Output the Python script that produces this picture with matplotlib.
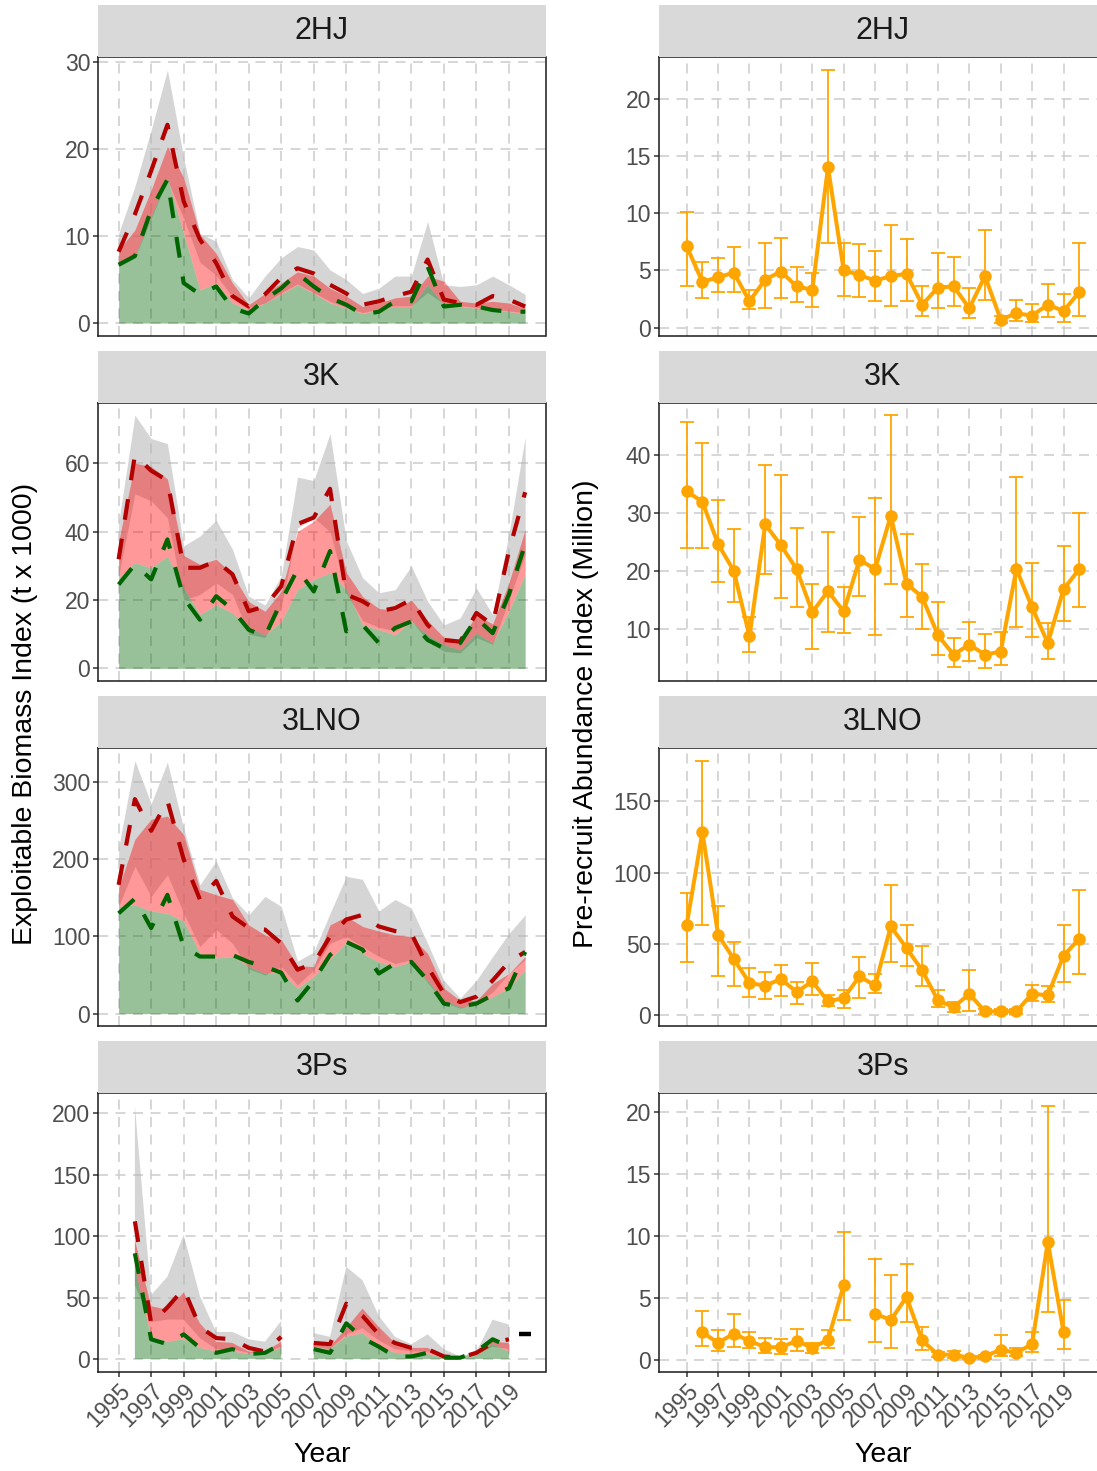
import numpy as np
import matplotlib
matplotlib.use('Agg')
import matplotlib.pyplot as plt

plt.rcParams['font.family'] = ['Liberation Sans', 'DejaVu Sans']

W, H = 1097, 1471
nan = np.nan
years = np.arange(1995, 2021)
regions = ['2HJ', '3K', '3LNO', '3Ps']
xticks = list(range(1995, 2020, 2))

# exploitable biomass (t x 1000): grey band, red band, green area, two dashed lines
hj_grey_hi = [10.3, 15.7, 22.2, 29.1, 19.0, 10.3, 9.4, 5.0, 2.9, 5.4, 7.5, 8.8, 8.4, 6.1, 5.0, 3.4, 4.0, 5.4, 5.4, 11.7, 4.4, 4.2, 4.4, 5.4, 4.4, 3.3]
hj_grey_lo = [6.5, 7.5, 12.0, 16.5, 12.0, 7.0, 5.5, 3.0, 1.8, 2.3, 3.5, 4.5, 3.5, 2.5, 1.8, 1.2, 1.6, 2.0, 2.0, 3.5, 2.2, 2.0, 1.8, 1.6, 1.4, 1.2]
hj_red_hi = [8.4, 10.7, 15.3, 20.3, 16.7, 10.2, 8.0, 4.6, 2.1, 3.4, 4.6, 5.9, 5.4, 4.0, 3.1, 1.9, 2.3, 2.9, 3.1, 5.4, 4.8, 2.5, 2.3, 2.5, 2.3, 1.7]
hj_green = [6.5, 7.7, 12.3, 16.7, 10.3, 3.8, 4.6, 2.3, 1.5, 2.3, 3.3, 4.4, 3.4, 2.3, 1.7, 1.1, 1.5, 1.9, 1.9, 4.4, 2.1, 1.9, 1.7, 1.5, 1.3, 1.1]
hj_red_line = [8.2, 12.5, 17.5, 22.8, 14.0, 9.6, 6.9, 3.1, 1.9, 3.3, 5.2, 6.3, 5.7, 4.4, 3.4, 2.1, 2.5, 3.1, 3.6, 7.3, 2.7, 2.3, 2.1, 3.1, 2.7, 1.9]
hj_green_line = [6.7, 7.7, 13.0, 16.5, 4.6, 3.3, 4.2, 1.7, 1.1, 2.7, 4.0, 5.7, 4.2, 2.9, 2.1, 1.0, 1.3, 2.5, 2.5, 6.5, 1.9, 2.1, 1.9, 1.5, 1.3, 1.3]

k_grey_hi = [42.6, 74.0, 67.2, 65.7, 35.8, 38.7, 43.3, 34.8, 21.1, 18.5, 27.0, 55.9, 54.9, 68.6, 37.3, 26.5, 22.1, 23.0, 29.9, 19.6, 12.7, 14.7, 23.5, 15.7, 39.2, 67.6]
k_grey_lo = [27.0, 51.0, 49.0, 44.0, 20.0, 21.6, 25.0, 21.6, 10.0, 9.0, 18.0, 41.0, 44.0, 40.0, 22.0, 14.0, 12.0, 11.0, 14.0, 8.0, 5.0, 4.5, 9.0, 7.0, 20.0, 33.3]
k_red_hi = [37.0, 60.0, 59.0, 55.4, 33.0, 30.4, 31.9, 27.5, 19.5, 16.7, 22.5, 40.0, 43.0, 48.0, 28.0, 21.0, 17.5, 17.0, 20.0, 14.0, 9.0, 8.5, 15.5, 13.0, 25.0, 40.7]
k_green = [26.5, 30.9, 29.4, 32.8, 23.5, 15.7, 18.6, 16.2, 11.8, 9.8, 13.7, 23.0, 26.0, 27.9, 23.0, 12.7, 11.3, 9.8, 13.7, 9.8, 6.9, 5.4, 10.3, 7.4, 16.7, 27.5]
k_red_line = [31.9, 62.3, 57.8, 54.9, 29.4, 29.4, 31.4, 27.5, 16.7, 18.1, 24.0, 42.2, 44.1, 52.5, 21.6, 19.6, 16.7, 17.6, 20.1, 12.7, 8.3, 7.8, 16.2, 12.7, 34.3, 51.5]
k_green_line = [24.5, 30.4, 26.0, 37.7, 20.6, 14.2, 21.1, 17.2, 11.3, 9.3, 19.6, 28.9, 22.5, 34.3, 10.8, 12.7, 7.4, 11.8, 13.7, 8.3, 5.9, 7.4, 14.7, 10.3, 21.6, 36.3]

lno_grey_hi = [215, 328, 272, 326, 240, 167, 198, 150, 128, 152, 139, 68, 80, 130, 178, 174, 133, 148, 137, 91, 43, 20, 43, 74, 104, 128]
lno_grey_lo = [139, 191, 152, 180, 130, 87, 109, 91, 58, 50, 61, 37, 57, 91, 100, 87, 74, 65, 70, 40, 15, 7, 13, 28, 52, 70]
lno_red_hi = [163, 226, 252, 256, 232, 161, 154, 148, 115, 102, 96, 62, 61, 115, 126, 113, 107, 102, 100, 78, 33, 17, 17, 39, 52, 74]
lno_green = [139, 141, 133, 130, 120, 78, 72, 74, 61, 52, 52, 33, 48, 70, 93, 78, 67, 61, 67, 43, 17, 9, 11, 22, 33, 57]
lno_red_line = [167, 278, 237, 276, 200, 148, 172, 126, 111, 109, 91, 57, 65, 100, 122, 128, 113, 107, 104, 61, 26, 15, 22, 43, 67, 80]
lno_green_line = [130, 149, 111, 154, 87, 74, 74, 76, 67, 61, 53, 17, 43, 76, 93, 83, 52, 65, 67, 43, 13, 9, 13, 24, 33, 80]

ps_grey_hi = [nan, 206, 52, 67, 101, 51, 22, 22, 16, 14, 31, nan, 21, 18, 75, 64, 35, 18, 12, 20, 8, 2, 6, 32, 28, nan]
ps_grey_lo = [nan, 60, 30, 32, 32, 17, 8, 8, 5, 5, 10, nan, 10, 8, 20, 25, 15, 8, 6, 6, 1, 1, 4, 10, 8, nan]
ps_red_hi = [nan, 97, 43, 40, 54, 29, 14, 13, 6, 6, 14, nan, 13, 10, 25, 41, 26, 13, 9, 9, 2, 1, 5, 14, 13, nan]
ps_green = [nan, 75, 18, 14, 16, 9, 6, 6, 4, 4, 9, nan, 9, 8, 18, 21, 10, 5, 4, 4, 1, 1, 4, 12, 6, nan]
ps_red_line = [nan, 112, 29, 42, 57, 26, 17, 16, 9, 6, 18, nan, 13, 12, 45, 35, 20, 13, 9, 8, 2, 1, 5, 13, 16, nan]
ps_green_line = [nan, 86, 16, 12, 20, 9, 5, 8, 4, 5, 12, nan, 8, 5, 29, 17, 10, 2, 2, 5, 1, 1, 6, 16, 10, nan]
ps_last_mark = 20  # lone 2020 value, drawn as a short black bar

# pre-recruit abundance index (million): value, lower, upper
hj_pre = [7.1, 4.0, 4.4, 4.8, 2.3, 4.2, 4.9, 3.6, 3.3, 14.0, 5.0, 4.6, 4.1, 4.5, 4.7, 2.0, 3.5, 3.6, 1.7, 4.5, 0.7, 1.25, 1.05, 2.0, 1.45, 3.1]
hj_pre_lo = [3.6, 2.6, 3.1, 3.1, 1.6, 1.7, 2.6, 2.2, 1.8, 7.4, 2.8, 2.7, 2.3, 1.9, 2.3, 1.0, 1.7, 1.9, 0.8, 2.4, 0.4, 0.6, 0.45, 0.9, 0.5, 1.0]
hj_pre_hi = [10.1, 5.7, 6.1, 7.0, 3.3, 7.4, 7.8, 5.3, 4.8, 22.5, 7.4, 7.3, 6.7, 9.0, 7.7, 3.6, 6.5, 6.2, 3.5, 8.5, 1.0, 2.4, 2.1, 3.8, 2.9, 7.4]

k_pre = [33.8, 32.0, 24.7, 20.1, 8.8, 28.1, 24.5, 20.4, 13.0, 16.6, 13.1, 22.0, 20.4, 29.6, 17.9, 15.6, 9.0, 5.65, 7.4, 5.65, 6.2, 20.4, 13.8, 7.65, 16.9, 20.4]
k_pre_lo = [24.0, 24.0, 18.1, 14.7, 6.1, 19.6, 15.5, 13.8, 6.7, 9.5, 9.4, 15.8, 9.1, 17.9, 12.1, 10.0, 5.6, 3.6, 4.5, 3.3, 3.9, 10.5, 8.7, 4.9, 11.5, 13.9]
k_pre_hi = [45.7, 42.2, 32.3, 27.3, 12.2, 38.4, 36.6, 27.5, 17.8, 26.8, 17.3, 29.3, 32.6, 46.9, 26.4, 21.2, 14.7, 8.6, 11.3, 9.3, 9.5, 36.3, 21.4, 11.1, 24.3, 30.1]

lno_pre = [63.6, 128.5, 56.5, 39.5, 22.7, 20.8, 25.5, 16.4, 23.8, 9.8, 12.1, 27.3, 21.0, 62.4, 47.2, 31.5, 10.5, 5.8, 15.0, 2.8, 2.8, 2.8, 15.2, 14.0, 41.8, 53.7]
lno_pre_lo = [37.4, 63.1, 27.3, 20.8, 12.9, 11.4, 13.3, 7.9, 14.0, 6.3, 5.1, 12.1, 15.7, 37.1, 34.3, 20.3, 5.8, 2.3, 3.3, 1.2, 1.2, 1.2, 10.3, 9.3, 23.4, 29.0]
lno_pre_hi = [85.7, 178.7, 76.4, 51.6, 33.2, 30.4, 35.5, 23.4, 36.4, 14.0, 18.0, 40.7, 29.0, 91.6, 63.6, 48.4, 17.5, 9.3, 32.0, 4.4, 4.4, 4.4, 21.5, 20.8, 63.1, 88.1]

ps_pre = [nan, 2.2, 1.35, 2.1, 1.5, 1.0, 1.0, 1.5, 0.95, 1.6, 6.0, nan, 3.7, 3.2, 5.05, 1.55, 0.4, 0.4, 0.13, 0.27, 0.8, 0.55, 1.25, 9.5, 2.25, nan]
ps_pre_lo = [nan, 1.1, 0.7, 1.0, 0.9, 0.55, 0.45, 0.7, 0.55, 0.95, 3.2, nan, 1.45, 0.95, 3.0, 0.8, 0.2, 0.13, 0.05, 0.05, 0.27, 0.27, 0.6, 3.85, 0.85, nan]
ps_pre_hi = [nan, 3.9, 2.4, 3.7, 2.2, 1.75, 1.7, 2.5, 1.3, 2.4, 10.3, nan, 8.1, 6.8, 7.7, 2.65, 0.6, 0.7, 0.27, 0.4, 1.95, 0.95, 2.2, 20.5, 4.85, nan]

biomass = [
    (hj_grey_hi, hj_grey_lo, hj_red_hi, hj_green, hj_red_line, hj_green_line),
    (k_grey_hi, k_grey_lo, k_red_hi, k_green, k_red_line, k_green_line),
    (lno_grey_hi, lno_grey_lo, lno_red_hi, lno_green, lno_red_line, lno_green_line),
    (ps_grey_hi, ps_grey_lo, ps_red_hi, ps_green, ps_red_line, ps_green_line),
]
prerecruit = [
    (hj_pre, hj_pre_lo, hj_pre_hi),
    (k_pre, k_pre_lo, k_pre_hi),
    (lno_pre, lno_pre_lo, lno_pre_hi),
    (ps_pre, ps_pre_lo, ps_pre_hi),
]
left_yticks = [[0, 10, 20, 30], [0, 20, 40, 60], [0, 100, 200, 300], [0, 50, 100, 150, 200]]
right_yticks = [[0, 5, 10, 15, 20], [10, 20, 30, 40], [0, 50, 100, 150], [0, 5, 10, 15, 20]]


def rect(x0, y0, x1, y1):
    return [x0 / W, 1 - y1 / H, (x1 - x0) / W, (y1 - y0) / H]


def style_panel(ax, bottom_row):
    ax.set_axisbelow(True)
    ax.grid(True, color='#cfcfcf', lw=1.2, ls=(0, (6, 4.5)))
    for s in ax.spines.values():
        s.set_color('#1a1a1a')
        s.set_linewidth(1.1)
    ax.set_xticks(xticks)
    ax.tick_params(direction='out', length=3.8, width=1.1, color='#333333',
                   labelsize=16.5, labelcolor='#4d4d4d', pad=2)
    if bottom_row:
        ax.set_xticklabels([str(y) for y in xticks], rotation=45, ha='right',
                           va='top', rotation_mode='anchor')
    else:
        ax.tick_params(axis='x', bottom=False, labelbottom=False)


def strip(x0, x1, top, label):
    s = fig.add_axes(rect(x0, top - 52, x1, top))
    s.set_facecolor('#d9d9d9')
    s.set_xticks([])
    s.set_yticks([])
    for sp in s.spines.values():
        sp.set_visible(False)
    s.text(0.5, 0.5, label, ha='center', va='center', fontsize=22,
           color='#1a1a1a', transform=s.transAxes)


fig = plt.figure(figsize=(W / 100, H / 100), dpi=100)
tops = [57.3, 402.6, 747.9, 1093.2]
ph = 278.4
dash = (0, (5, 4.6))

for i, reg in enumerate(regions):
    top = tops[i]
    last = i == len(regions) - 1

    # left: exploitable biomass
    ghi, glo, rhi, gr, rl, gl = [np.array(a, dtype=float) for a in biomass[i]]
    ax = fig.add_axes(rect(98.3, top, 545.5, top + ph))
    ax.fill_between(years, glo, ghi, color='#b4b4b4', alpha=0.55, lw=0)
    ax.fill_between(years, gr, rhi, color='red', alpha=0.4, lw=0)
    ax.fill_between(years, 0, gr, color='darkgreen', alpha=0.4, lw=0)
    ax.plot(years, rl, color='#b30000', lw=3.0, ls=dash, dash_capstyle='butt')
    ax.plot(years, gl, color='darkgreen', lw=3.0, ls=dash, dash_capstyle='butt')
    if reg == '3Ps':
        ax.plot([2020], [ps_last_mark], marker='_', ms=9, mew=3.2, color='black')
    m = np.nanmax(ghi)
    ax.set_ylim(-0.05 * m, 1.05 * m)
    ax.set_xlim(1993.75, 2021.25)
    ax.set_yticks(left_yticks[i])
    style_panel(ax, last)
    strip(98.3, 545.5, top, reg)

    # right: pre-recruit abundance
    v, lo, hi = [np.array(a, dtype=float) for a in prerecruit[i]]
    ax = fig.add_axes(rect(659.3, top, 1106.6, top + ph))
    ax.errorbar(years, v, yerr=[v - lo, hi - v], fmt='none', ecolor='orange',
                elinewidth=1.3, capsize=5.1, capthick=1.3)
    ax.plot(years, v, color='orange', lw=2.9, marker='o', ms=8)
    ymin, ymax = np.nanmin(lo), np.nanmax(hi)
    r = ymax - ymin
    ax.set_ylim(ymin - 0.05 * r, ymax + 0.05 * r)
    ax.set_xlim(1993.255, 2021.745)
    ax.set_yticks(right_yticks[i])
    style_panel(ax, last)
    strip(659.3, 1106.6, top, reg)

fig.text(25 / W, 1 - 714 / H, 'Exploitable Biomass Index (t x 1000)', rotation=90,
         ha='center', va='center', fontsize=20.5)
fig.text(586 / W, 1 - 714 / H, 'Pre-recruit Abundance Index (Million)', rotation=90,
         ha='center', va='center', fontsize=20.5)
fig.text(322 / W, 1 - 1455 / H, 'Year', ha='center', va='center', fontsize=20.5)
fig.text(883 / W, 1 - 1455 / H, 'Year', ha='center', va='center', fontsize=20.5)

fig.savefig('out.png', dpi=100)
